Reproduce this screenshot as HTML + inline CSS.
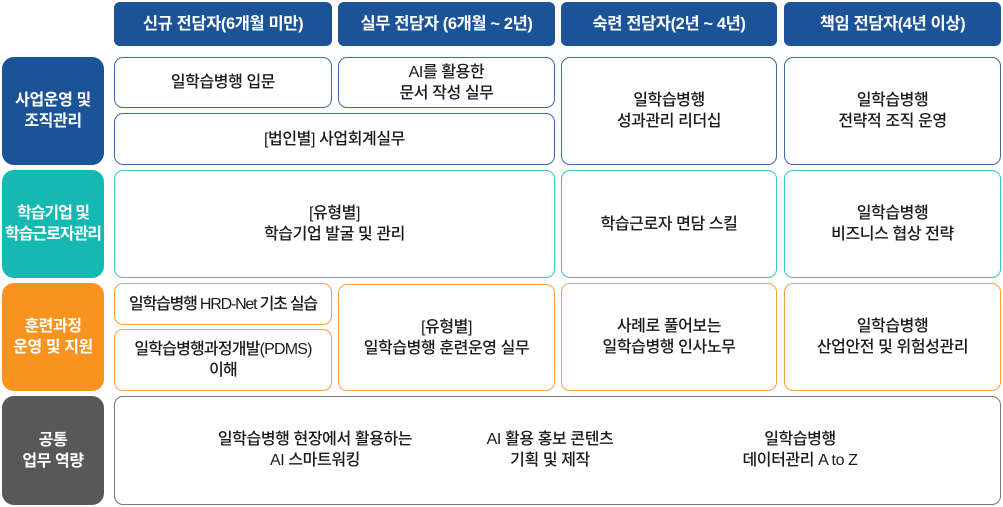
<!DOCTYPE html>
<html><head><meta charset="utf-8"><style>
html,body{margin:0;padding:0;background:#fff;}
body{width:1003px;height:507px;position:relative;overflow:hidden;font-family:"Liberation Sans","Noto Sans CJK KR",sans-serif;}
.b{position:absolute;box-sizing:border-box;display:flex;align-items:center;justify-content:center;text-align:center;border-radius:9px;font-size:16px;line-height:21px;color:#1a1a1a;letter-spacing:-0.4px;font-weight:500;}
.h{background:#1c5296;color:#fff;font-weight:bold;font-size:16.5px;border-radius:6px;}
.l{color:#fff;font-weight:bold;font-size:16px;border-radius:12px;}
.c1{border:1.5px solid #3d6aa8;background:#fff;}
.c2{border:1.5px solid #3cc4bd;background:#fff;}
.c3{border:1.5px solid #f5a046;background:#fff;}
.c4{border:1.5px solid #777;background:#fff;}
</style></head><body>
<div class="b h" style="left:114px;top:2px;width:218px;height:44px;">신규 전담자(6개월 미만)</div>
<div class="b h" style="left:338px;top:2px;width:217px;height:44px;">실무 전담자 (6개월 ~ 2년)</div>
<div class="b h" style="left:561px;top:2px;width:216px;height:44px;">숙련 전담자(2년 ~ 4년)</div>
<div class="b h" style="left:784px;top:2px;width:217px;height:44px;">책임 전담자(4년 이상)</div>

<div class="b l" style="left:2px;top:57px;width:102px;height:108px;background:#1c5296;">사업운영 및<br>조직관리</div>
<div class="b c1" style="left:114px;top:57px;width:218px;height:51px;">일학습병행 입문</div>
<div class="b c1" style="left:338px;top:57px;width:217px;height:51px;">AI를 활용한<br>문서 작성 실무</div>
<div class="b c1" style="left:114px;top:113px;width:441px;height:52px;">[법인별] 사업회계실무</div>
<div class="b c1" style="left:561px;top:57px;width:216px;height:108px;">일학습병행<br>성과관리 리더십</div>
<div class="b c1" style="left:784px;top:57px;width:217px;height:108px;">일학습병행<br>전략적 조직 운영</div>

<div class="b l" style="left:2px;top:170px;width:102px;height:108px;background:#16b9b1;letter-spacing:-1px;">학습기업 및<br>학습근로자관리</div>
<div class="b c2" style="left:114px;top:170px;width:441px;height:108px;">[유형별]<br>학습기업 발굴 및 관리</div>
<div class="b c2" style="left:561px;top:170px;width:216px;height:108px;">학습근로자 면담 스킬</div>
<div class="b c2" style="left:784px;top:170px;width:217px;height:108px;">일학습병행<br>비즈니스 협상 전략</div>

<div class="b l" style="left:2px;top:283px;width:102px;height:108px;background:#f7931e;">훈련과정<br>운영 및 지원</div>
<div class="b c3" style="left:114px;top:283px;width:218px;height:42px;letter-spacing:-1.2px;">일학습병행 HRD-Net 기초 실습</div>
<div class="b c3" style="left:114px;top:329px;width:218px;height:62px;letter-spacing:-0.8px;">일학습병행과정개발(PDMS)<br>이해</div>
<div class="b c3" style="left:338px;top:284px;width:217px;height:107px;">[유형별]<br>일학습병행 훈련운영 실무</div>
<div class="b c3" style="left:561px;top:283px;width:216px;height:108px;">사례로 풀어보는<br>일학습병행 인사노무</div>
<div class="b c3" style="left:784px;top:283px;width:217px;height:108px;">일학습병행<br>산업안전 및 위험성관리</div>

<div class="b l" style="left:2px;top:396px;width:102px;height:109px;background:#585858;">공통<br>업무 역량</div>
<div class="b c4" style="left:114px;top:396px;width:887px;height:109px;"></div>
<div class="b" style="left:180px;top:429px;width:270px;height:42px;">일학습병행 현장에서 활용하는<br>AI 스마트워킹</div>
<div class="b" style="left:450px;top:429px;width:200px;height:42px;">AI 활용 홍보 콘텐츠<br>기획 및 제작</div>
<div class="b" style="left:700px;top:429px;width:200px;height:42px;">일학습병행<br>데이터관리 A to Z</div>
</body></html>
